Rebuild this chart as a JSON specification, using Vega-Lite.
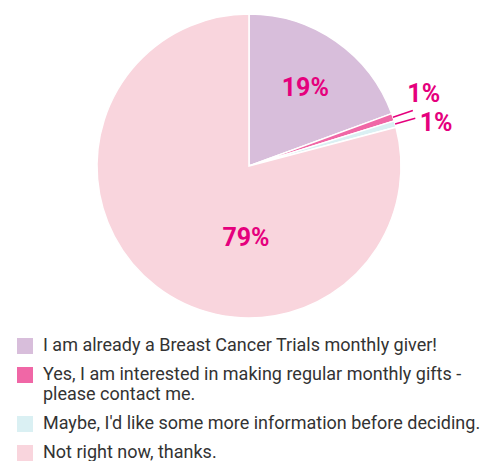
{
  "$schema": "https://vega.github.io/schema/vega-lite/v6.json",
  "width": 498,
  "height": 332,
  "autosize": "none",
  "padding": {"left": 0, "top": 0, "right": 0, "bottom": 129},
  "background": "white",
  "config": {"view": {"stroke": null}},
  "data": {"values": [
    {"idx": 1, "answer": "I am already a Breast Cancer Trials monthly giver!", "value": 19.4, "label": "19%"},
    {"idx": 2, "answer": "Yes, I am interested in making regular monthly gifts - please contact me.", "value": 0.8, "label": "1%"},
    {"idx": 3, "answer": "Maybe, I'd like some more information before deciding.", "value": 0.7, "label": "1%"},
    {"idx": 4, "answer": "Not right now, thanks.", "value": 79.1, "label": "79%"}
  ]},
  "transform": [
    {"stack": "value", "groupby": [], "sort": [{"field": "idx", "order": "ascending"}], "as": ["v0", "v1"]}
  ],
  "encoding": {
    "theta": {"field": "v0", "type": "quantitative", "scale": {"domain": [0, 100]}},
    "theta2": {"field": "v1"}
  },
  "layer": [
    {
      "mark": {"type": "arc", "outerRadius": 152, "stroke": "white", "strokeWidth": 1.5},
      "encoding": {
        "color": {
          "field": "answer", "type": "nominal",
          "sort": ["I am already a Breast Cancer Trials monthly giver!", "Yes, I am interested in making regular monthly gifts - please contact me.", "Maybe, I'd like some more information before deciding.", "Not right now, thanks."],
          "scale": {"range": ["#d8bedb", "#f067a6", "#daf0f3", "#f9d5dd"]},
          "legend": {
            "orient": "none", "legendX": 16, "legendY": 337,
            "title": null, "symbolType": "square", "symbolSize": 256, "symbolStrokeWidth": 0,
            "labelFont": "Roboto", "labelFontSize": 18, "labelColor": "#333333", "labelLimit": 0,
            "labelOffset": 9, "rowPadding": 11, "labelBaseline": "middle",
            "labelExpr": "indexof(datum.label, 'gifts - ') > 0 ? ['Yes, I am interested in making regular monthly gifts -', 'please contact me.'] : datum.label",
            "encode": {"labels": {"update": {"lineHeight": {"value": 17}}}}
          }
        }
      }
    },
    {
      "transform": [{"filter": "datum.idx == 2 || datum.idx == 3"}],
      "mark": {"type": "arc", "radius": 152, "radius2": 173, "padAngle": 0.25, "stroke": "#e5007d", "strokeWidth": 1.5, "fill": "#e5007d"}
    },
    {
      "transform": [{"filter": "datum.idx == 1"}],
      "mark": {"type": "text", "radius": 96, "thetaOffset": 0.627, "font": "Roboto", "fontWeight": "bold", "fontSize": 25, "color": "#e5007d", "align": "center", "baseline": "middle"},
      "encoding": {"text": {"field": "label"}}
    },
    {
      "transform": [{"filter": "datum.idx == 4"}],
      "mark": {"type": "text", "radius": 72, "thetaOffset": 1.870, "font": "Roboto", "fontWeight": "bold", "fontSize": 25, "color": "#e5007d", "align": "center", "baseline": "middle"},
      "encoding": {"text": {"field": "label"}}
    },
    {
      "transform": [{"filter": "datum.idx == 2"}],
      "mark": {"type": "text", "radius": 189, "thetaOffset": -0.039, "font": "Roboto", "fontWeight": "bold", "fontSize": 25, "color": "#e5007d", "align": "center", "baseline": "middle"},
      "encoding": {"text": {"field": "label"}}
    },
    {
      "transform": [{"filter": "datum.idx == 3"}],
      "mark": {"type": "text", "radius": 192, "thetaOffset": 0.075, "font": "Roboto", "fontWeight": "bold", "fontSize": 25, "color": "#e5007d", "align": "center", "baseline": "middle"},
      "encoding": {"text": {"field": "label"}}
    }
  ]
}
